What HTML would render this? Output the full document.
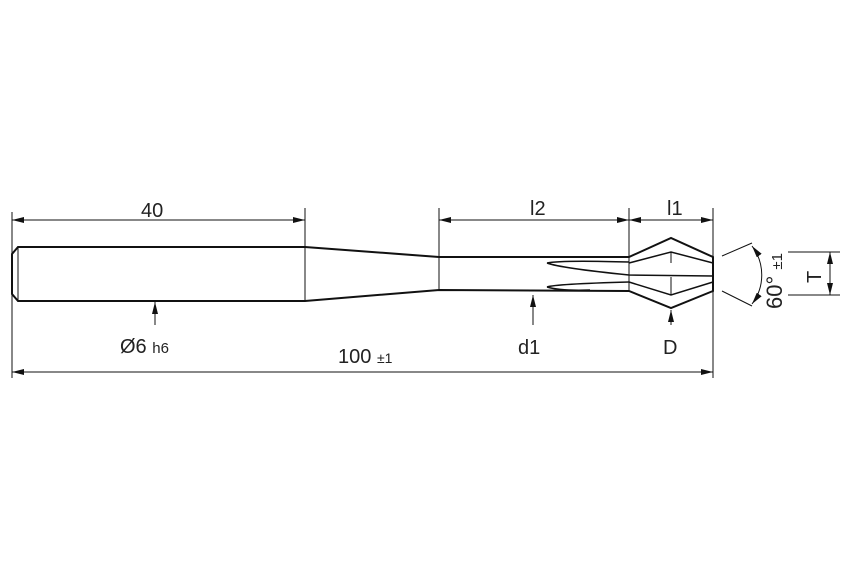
<!DOCTYPE html>
<html><head><style>body{margin:0;background:#fff}svg{display:block}text{font-family:"Liberation Sans",sans-serif;fill:#222}</style></head><body>
<svg width="850" height="567" viewBox="0 0 850 567" xmlns="http://www.w3.org/2000/svg">
<defs><marker id="a" markerWidth="12" markerHeight="6" refX="12" refY="3" orient="auto-start-reverse" markerUnits="userSpaceOnUse"><path d="M0,0 L12,3 L0,6 Z" fill="#111"/></marker></defs>
<g stroke="#111" fill="none" stroke-width="2">
<path d="M18,247 L305,247 L439,257 L629,257 L671,238 L713,257 L713,291 L671,308 L629,291 L439,290 L305,301 L18,301 L12,294 L12,254 Z"/>
<path d="M629,263 L671,252 L713,263 M629,282 L671,295 L713,282" stroke-width="1.5"/>
<path d="M547,263 Q560,260 629,262 M547,263 Q560,268 629,275 L713,276 M547,287 Q555,284 629,282 M547,287 Q560,291 590,290" stroke-width="1.5"/>
</g>
<g stroke="#111" fill="none" stroke-width="1">
<path d="M18,247 V301 M305,247 V301 M439,257 V290 M629,257 V291 M671,252 V263 M671,277 V295"/>
<path d="M12,212 V378 M305,208 V247 M439,208 V257 M629,208 V257 M713,208 V378"/>
<path d="M12,220 H305" marker-start="url(#a)" marker-end="url(#a)"/>
<path d="M439,220 H629" marker-start="url(#a)" marker-end="url(#a)"/>
<path d="M629,220 H713" marker-start="url(#a)" marker-end="url(#a)"/>
<path d="M12,372 H713" marker-start="url(#a)" marker-end="url(#a)"/>
<path d="M155,325 V302" marker-end="url(#a)"/>
<path d="M533,325 V295" marker-end="url(#a)"/>
<path d="M671,325 V310" marker-end="url(#a)"/>
<path d="M722,256 L752,243 M722,291 L752,306"/>
<path d="M752,246 A48 48 0 0 1 752,304" marker-start="url(#a)" marker-end="url(#a)"/>
<path d="M788,252 H840 M788,295 H840"/>
<path d="M830,252 V295" marker-start="url(#a)" marker-end="url(#a)"/>
</g>
<text x="141" y="217" font-size="20">40</text>
<text x="530" y="215" font-size="20">l2</text>
<text x="667" y="215" font-size="20">l1</text>
<text x="120" y="353" font-size="20">Ø6 <tspan font-size="15">h6</tspan></text>
<text x="338" y="363" font-size="20">100 <tspan font-size="14">±1</tspan></text>
<text x="518" y="354" font-size="20">d1</text>
<text x="663" y="354" font-size="20">D</text>
<text transform="translate(782,309) rotate(-90)" font-size="22">60° <tspan font-size="15">±1</tspan></text>
<text transform="translate(821,283) rotate(-90)" font-size="20">T</text>
</svg>
</body></html>
